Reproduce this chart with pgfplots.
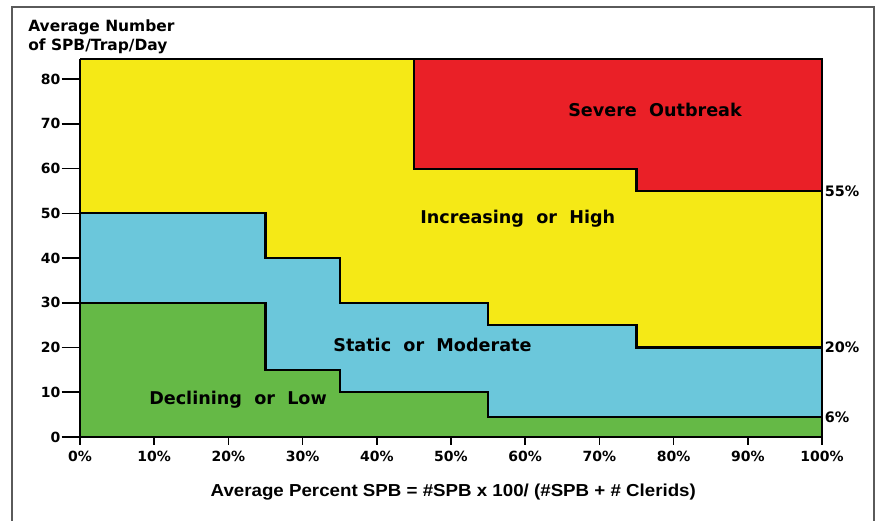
\documentclass[border=0pt]{standalone}
\usepackage{pgfplots}
\pgfplotsset{compat=1.18}
\usepackage{fontspec}
\setmainfont{Liberation Sans}
\newfontfamily\dv{DejaVu Sans}
\newfontfamily\wide[FakeStretch=1.08]{Liberation Sans}
\definecolor{myyellow}{RGB}{245,233,22}
\definecolor{myred}{RGB}{234,32,39}
\definecolor{myblue}{RGB}{107,199,219}
\definecolor{mygreen}{RGB}{101,185,70}
\definecolor{frame}{RGB}{90,90,90}
\begin{document}
\begin{tikzpicture}
\path[use as bounding box] (0,0) rectangle (657pt,390.75pt);
\draw[frame, line width=1.5pt] (9pt,0) -- (9pt,385.5pt) -- (655.5pt,385.5pt) -- (655.5pt,0);
\node[anchor=north west, align=left, font=\dv\bfseries\fontsize{11.6}{14.5}\selectfont, inner sep=0pt] at (21pt,376.5pt) {Average Number\\of SPB/Trap/Day};
\node[font=\wide\bfseries\fontsize{13}{15}\selectfont] at (340pt,21.5pt) {Average Percent SPB = \#SPB x 100/ (\#SPB + \# Clerids)};
\begin{axis}[
  at={(60pt,63pt)}, anchor=south west,
  width=556.5pt, height=283.5pt, scale only axis,
  xmin=0, xmax=100, ymin=0, ymax=84.5,
  axis background/.style={fill=myyellow},
  axis line style={black, line width=1.6pt},
  axis lines*=left,
  axis on top,
  tick align=outside,
  major tick length=6pt,
  tick style={black, line width=1.2pt},
  xtick={0,10,...,100},
  xticklabels={0\%,10\%,20\%,30\%,40\%,50\%,60\%,70\%,80\%,90\%,100\%},
  ytick={0,10,...,80},
  yticklabel={\pgfmathprintnumber{\tick}\hspace{1pt}\rule[3.2pt]{7.5pt}{1.2pt}},
  /pgf/number format/assume math mode=true,
  ticklabel style={font=\dv\bfseries\fontsize{10.5}{12}\selectfont},
  yticklabel style={inner xsep=0pt},
  xticklabel style={yshift=-1pt},
  clip=false,
]
\addplot[fill=myred, draw=black, line width=1.6pt] coordinates {(45,84.5) (45,60) (75,60) (75,55) (100,55) (100,84.5)} -- cycle;
\addplot[fill=myblue, draw=black, line width=1.6pt] coordinates {(0,0) (0,50) (25,50) (25,40) (35,40) (35,30) (55,30) (55,25) (75,25) (75,20) (100,20) (100,0)} -- cycle;
\addplot[fill=mygreen, draw=black, line width=1.6pt] coordinates {(0,0) (0,30) (25,30) (25,15) (35,15) (35,10) (55,10) (55,4.5) (100,4.5) (100,0)} -- cycle;
\draw[black, line width=1.6pt] (axis cs:0,84.5) -- (axis cs:100,84.5) -- (axis cs:100,0);
\begin{scope}[every node/.style={font=\dv\bfseries\fontsize{13.2}{15}\selectfont}]
\node at (axis cs:77.5,73.1) {Severe\ \ Outbreak};
\node at (axis cs:59,48.7) {Increasing\ \ or\ \ High};
\node at (axis cs:47.5,20.6) {Static\ \ or\ \ Moderate};
\node at (axis cs:21.3,8.3) {Declining\ \ or\ \ Low};
\end{scope}
\begin{scope}[every node/.style={font=\dv\bfseries\fontsize{10.8}{12}\selectfont, anchor=west, inner sep=2pt}]
\node at (axis cs:100,55) {55\%};
\node at (axis cs:100,20) {20\%};
\node at (axis cs:100,4.5) {6\%};
\end{scope}
\end{axis}
\end{tikzpicture}
\end{document}
